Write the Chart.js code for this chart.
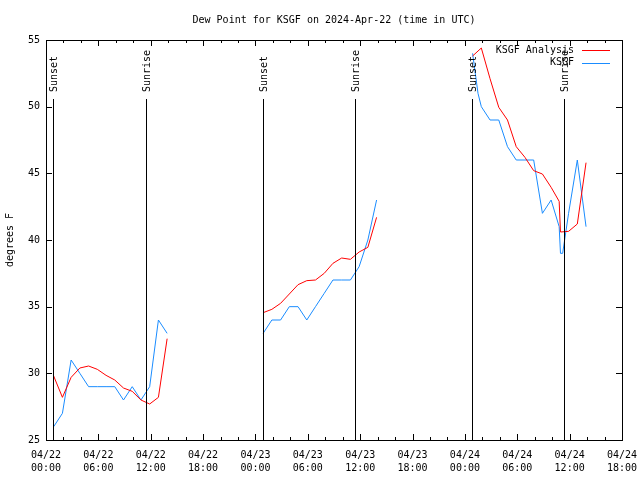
<!DOCTYPE html>
<html>
<head>
<meta charset="utf-8">
<script src="https://cdn.jsdelivr.net/npm/chart.js@4"></script>
<style>html,body{margin:0;padding:0;background:#fff}</style>
</head>
<body>
<canvas id="dewChart" width="640" height="480"></canvas>
<script>
// times are hours after 04/22 00:00 UTC, null breaks the line
const obsHours = [0.88, 1.88, 2.88, 3.88, 4.88, 5.88, 6.88, 7.88, 8.88, 9.88, 10.88, 11.88, 12.88, 13.88, 19,
  24.88, 25.88, 26.88, 27.88, 28.88, 29.88, 30.88, 31.88, 32.88, 33.88, 34.88, 35.88, 36.88, 37.88, 43,
  48.88, 49.5, 49.88, 50.88, 51.88, 52.88, 53.88, 54.88, 55.88, 56.88, 57.88, 58.8, 58.95, 59.2, 59.88, 60.88, 61.88];
const obsDew = [26, 27, 31, 30, 29, 29, 29, 29, 28, 29, 28, 29, 34, 33, null,
  33, 34, 34, 35, 35, 34, 35, 36, 37, 37, 37, 38, 40, 43, null,
  54, 51, 50, 49, 49, 47, 46, 46, 46, 42, 43, 41, 39, 39, 42, 46, 41];

const anaHours = [0.88, 1.88, 2.88, 3.88, 4.88, 5.88, 6.88, 7.88, 8.88, 9.88, 10.88, 11.88, 12.88, 13.88, 19,
  24.88, 25.88, 26.88, 27.88, 28.88, 29.88, 30.88, 31.88, 32.88, 33.88, 34.88, 35.88, 36.88, 37.88, 43,
  48.88, 49.88, 50.88, 51.88, 52.88, 53.88, 54.88, 55.88, 56.88, 57.88, 58.8, 58.95, 59.88, 60.88, 61.88];
const anaDew = [29.8, 28.2, 29.7, 30.4, 30.55, 30.3, 29.85, 29.5, 28.9, 28.65, 28.0, 27.7, 28.2, 32.6, null,
  34.55, 34.8, 35.25, 35.95, 36.65, 36.95, 37.0, 37.5, 38.25, 38.65, 38.55, 39.1, 39.45, 41.7, null,
  53.8, 54.4, 52.1, 49.95, 49.0, 47.0, 46.2, 45.2, 44.95, 43.95, 42.9, 40.6, 40.65, 41.2, 45.8];

const sunsetHours = [0.84, 24.83, 48.85];
const sunriseHours = [11.46, 35.44, 59.39];

const monoFont = '"DejaVu Sans Mono", "Liberation Mono", monospace';

// gnuplot-like frame: box, inward ticks, sun lines and legend
const framePlugin = {
  id: 'frame',
  afterDatasetsDraw(chart) {
    const { ctx, chartArea: a, scales: { x, y } } = chart;
    ctx.save();
    ctx.strokeStyle = '#000';
    ctx.lineWidth = 1;
    ctx.beginPath();
    for (let h = 0; h <= 66; h += 2) {
      const px = Math.round(x.getPixelForValue(h)) + 0.5;
      const len = h % 6 === 0 ? 6 : 3;
      ctx.moveTo(px, a.bottom); ctx.lineTo(px, a.bottom - len);
      ctx.moveTo(px, a.top); ctx.lineTo(px, a.top + len);
    }
    for (let v = 25; v <= 55; v += 5) {
      const py = Math.round(y.getPixelForValue(v)) + 0.5;
      ctx.moveTo(a.left, py); ctx.lineTo(a.left + 6, py);
      ctx.moveTo(a.right, py); ctx.lineTo(a.right - 6, py);
    }
    ctx.stroke();
    ctx.strokeRect(Math.round(a.left) + 0.5, Math.round(a.top) + 0.5,
      Math.round(a.right - a.left), Math.round(a.bottom - a.top));

    // sunrise / sunset markers
    ctx.font = '10px ' + monoFont;
    ctx.fillStyle = '#000';
    const marks = sunsetHours.map(h => [h, 'Sunset']).concat(sunriseHours.map(h => [h, 'Sunrise']));
    marks.forEach(([h, txt]) => {
      const px = Math.round(x.getPixelForValue(h)) + 0.5;
      ctx.beginPath();
      ctx.moveTo(px, a.top + 59);
      ctx.lineTo(px, a.bottom);
      ctx.stroke();
      ctx.save();
      ctx.translate(px + 1, a.top + 52);
      ctx.rotate(-Math.PI / 2);
      ctx.textAlign = 'left';
      ctx.textBaseline = 'middle';
      ctx.fillText(txt, 0, 0);
      ctx.restore();
    });

    // legend, top right inside the plot
    ctx.textAlign = 'right';
    ctx.textBaseline = 'middle';
    chart.data.datasets.forEach((ds, i) => {
      const ly = a.top + 10 + i * 12.5;
      ctx.fillStyle = '#000';
      ctx.fillText(ds.label, a.right - 48, ly);
      ctx.strokeStyle = ds.borderColor;
      ctx.beginPath();
      ctx.moveTo(a.right - 40, Math.round(ly) + 0.5);
      ctx.lineTo(a.right - 12, Math.round(ly) + 0.5);
      ctx.stroke();
    });
    ctx.restore();
  }
};

const ctx = document.getElementById('dewChart').getContext('2d');
new Chart(ctx, {
  type: 'line',
  data: {
    datasets: [{
      label: 'KSGF Analysis',
      data: anaHours.map((h, i) => ({ x: h, y: anaDew[i] })),
      borderColor: '#ff0000',
      borderWidth: 1,
      pointRadius: 0,
      tension: 0,
      spanGaps: false
    }, {
      label: 'KSGF',
      data: obsHours.map((h, i) => ({ x: h, y: obsDew[i] })),
      borderColor: '#1a8cff',
      borderWidth: 1,
      pointRadius: 0,
      tension: 0,
      spanGaps: false
    }]
  },
  options: {
    responsive: false,
    animation: false,
    layout: { padding: { left: 0, right: 18, top: 0, bottom: 0 } },
    plugins: {
      legend: { display: false },
      tooltip: { enabled: false },
      title: {
        display: true,
        fullSize: false,
        text: 'Dew Point for KSGF on 2024-Apr-22 (time in UTC)',
        color: '#000',
        font: { family: monoFont, size: 10, weight: 'normal', lineHeight: 1.2 },
        padding: { top: 14, bottom: 14 }
      }
    },
    scales: {
      x: {
        type: 'linear',
        min: 0,
        max: 66,
        afterFit: s => { s.height = 40; s.paddingLeft = 0; s.paddingRight = 0; },
        grid: { display: false, drawTicks: false },
        border: { display: false },
        ticks: {
          stepSize: 6,
          autoSkip: false,
          maxRotation: 0,
          padding: 9,
          color: '#000',
          font: { family: monoFont, size: 10, lineHeight: 1.3 },
          callback: v => {
            const day = 22 + Math.floor(v / 24);
            const hr = v % 24;
            return ['04/' + day, String(hr).padStart(2, '0') + ':00'];
          }
        }
      },
      y: {
        min: 25,
        max: 55,
        afterFit: s => { s.width = 46; s.paddingTop = 0; s.paddingBottom = 0; },
        grid: { display: false, drawTicks: false },
        border: { display: false },
        ticks: {
          stepSize: 5,
          padding: 6,
          color: '#000',
          font: { family: monoFont, size: 10 }
        },
        title: {
          display: true,
          text: 'degrees F',
          color: '#000',
          font: { family: monoFont, size: 10 },
          padding: { top: 4, bottom: 0 }
        }
      }
    }
  },
  plugins: [framePlugin]
});
</script>
</body>
</html>
